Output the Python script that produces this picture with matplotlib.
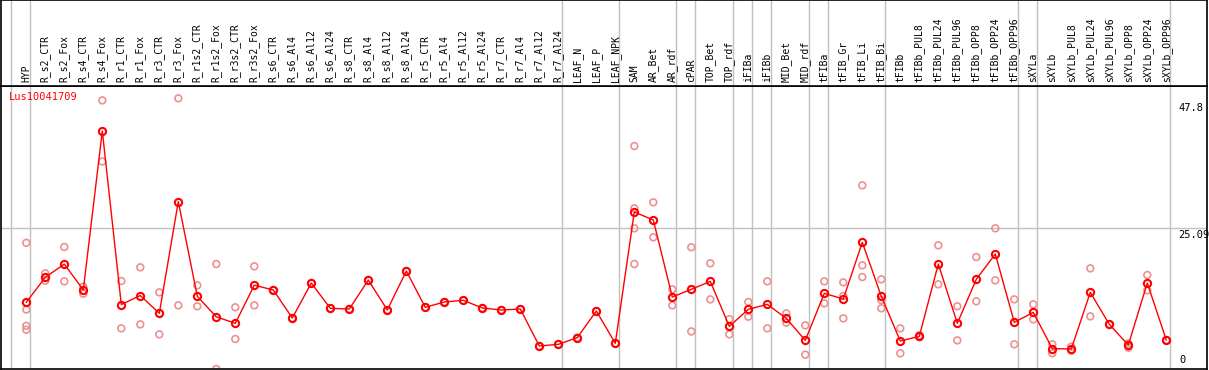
import matplotlib
matplotlib.use("Agg")
import matplotlib.pyplot as plt

W, H = 1209, 370

GENE = "Lus10041709"

LABELS = [
    "HYP", "R_s2_CTR", "R_s2_Fox", "R_s4_CTR", "R_s4_Fox", "R_r1_CTR", "R_r1_Fox",
    "R_r3_CTR", "R_r3_Fox", "R_r1s2_CTR", "R_r1s2_Fox", "R_r3s2_CTR", "R_r3s2_Fox",
    "R_s6_CTR", "R_s6_Al4", "R_s6_Al12", "R_s6_Al24", "R_s8_CTR", "R_s8_Al4",
    "R_s8_Al12", "R_s8_Al24", "R_r5_CTR", "R_r5_Al4", "R_r5_Al12", "R_r5_Al24",
    "R_r7_CTR", "R_r7_Al4", "R_r7_Al12", "R_r7_Al24", "LEAF_N", "LEAF_P", "LEAF_NPK",
    "SAM", "AR_Bet", "AR_rdf", "cPAR", "TOP_Bet", "TOP_rdf", "iFIBa", "iFIBb",
    "MID_Bet", "MID_rdf", "tFIBa", "tFIB_Gr", "tFIB_Li", "tFIB_Bi", "tFIBb",
    "tFIBb_PUL8", "tFIBb_PUL24", "tFIBb_PUL96", "tFIBb_OPP8", "tFIBb_OPP24",
    "tFIBb_OPP96", "sXYLa", "sXYLb", "sXYLb_PUL8", "sXYLb_PUL24", "sXYLb_PUL96",
    "sXYLb_OPP8", "sXYLb_OPP24", "sXYLb_OPP96",
]

MEANS = [
    11.9, 16.35, 18.7, 14.1, 42.45, 11.5, 13.1, 9.93, 29.85, 12.96, 9.3, 8.15, 14.95,
    14.09, 9.09, 15.33, 10.82, 10.7, 15.87, 10.52, 17.47, 11.0, 11.95, 12.25, 10.88,
    10.52, 10.7, 4.1, 4.4, 5.59, 10.34, 4.58,
    28.0, 26.57, 12.84, 14.2, 15.63, 7.6, 10.64, 11.53, 9.03, 5.11,
    13.49, 12.48, 22.59, 12.96, 4.99, 5.82, 18.72, 8.15, 15.99, 20.5, 8.33,
    10.1, 3.63, 3.57, 13.67, 7.96, 4.28, 15.33, 5.17,
]

REPLICATES = [
    [22.5, 10.6, 7.7, 7.0], [17.06, 15.75], [21.75, 15.63], [14.68, 13.43],
    [47.9, 37.0], [15.69, 7.25], [18.13, 7.96], [13.67, 6.18], [48.27, 11.35],
    [14.92, 11.18], [18.72, 0.0], [11.0, 5.35], [18.31, 11.35],
    [14.09], [9.09], [15.33], [10.82], [10.7], [15.87], [10.52], [17.47],
    [11.0], [11.95], [12.25], [10.88], [10.52], [10.7], [4.1], [4.4],
    [5.59], [10.34], [4.58],
    [39.76, 28.65, 25.09, 18.72], [29.72, 23.48], [14.2, 11.35], [21.7, 6.7],
    [18.84, 12.42], [8.9, 6.18], [11.95, 9.33], [15.63, 7.25], [9.93, 8.27],
    [7.78, 2.56], [15.63, 11.71], [15.45, 13.0, 9.03], [32.75, 18.49, 16.4],
    [15.99, 12.3, 10.82], [7.25, 2.8], [6.0, 5.7], [22.05, 15.1], [11.18, 5.11],
    [19.97, 12.07], [25.09, 15.81], [12.42, 4.4], [11.53, 8.86], [4.4, 2.8],
    [3.98, 3.27], [17.95, 9.39], [7.96], [4.58, 3.8], [16.76, 14.03], [5.17],
]

# group separators sit just right of these category indices
GROUP_ENDS = [-1, 0, 28, 31, 34, 35, 37, 38, 39, 41, 42, 45, 52, 53, 60]

Y_MAX = 47.8
Y_MID = 25.09

FONT = "DejaVu Sans Mono"
GRID = "#c0c0c0"
REP_COLOR = "#ee9090"

# pixel geometry of the reference
X0, DX = 26.3, 19.0
PLOT_TOP, PLOT_BOTTOM = 85.7, 369.0
PX_PER_UNIT = (PLOT_BOTTOM - 228.3) / Y_MID


def setup_axes(fig):
    xlim = ((1 - X0) / DX, (1207 - X0) / DX)
    ax = fig.add_axes([1 / W, (H - PLOT_BOTTOM) / H, 1206 / W, (PLOT_BOTTOM - PLOT_TOP) / H])
    top = fig.add_axes([1 / W, (H - PLOT_TOP) / H, 1206 / W, PLOT_TOP / H - 0.5 / H])
    for a in (ax, top):
        a.set_xlim(*xlim)
        a.set_xticks([])
        a.set_yticks([])
        for s in a.spines.values():
            s.set_color("black")
            s.set_linewidth(1.2)
        for g in GROUP_ENDS:
            a.axvline(g + 0.22, color=GRID, lw=1, zorder=0)
    ax.set_ylim(0, (PLOT_BOTTOM - PLOT_TOP) / PX_PER_UNIT)
    top.set_ylim(0, 1)
    return ax, top


def plot_all(outfile):
    fig = plt.figure(figsize=(W / 100, H / 100), dpi=100)
    ax, top = setup_axes(fig)
    x = list(range(len(LABELS)))

    for i, lab in enumerate(LABELS):
        top.text(i, 3.5 / PLOT_TOP, lab, rotation=90, ha="center", va="bottom",
                 family=FONT, fontsize=7)

    ax.axhline(Y_MID, color=GRID, lw=1, zorder=0)

    rx = [i for i, reps in enumerate(REPLICATES) for _ in reps]
    ry = [v for reps in REPLICATES for v in reps]
    ax.scatter(rx, ry, s=24, facecolors="none", edgecolors=REP_COLOR, linewidths=1.2, zorder=2)
    ax.plot(x, MEANS, color="red", lw=1, marker="o", ms=5.2, mfc="none", mec="red",
            mew=1.5, zorder=3)

    ytr = ax.get_yaxis_transform()
    for val, txt in [(Y_MAX, "47.8"), (Y_MID, "25.09")]:
        ax.annotate(txt, xy=(0.976, val), xycoords=ytr, xytext=(0, -1.5),
                    textcoords="offset points", va="top", ha="left",
                    family=FONT, fontsize=7.5)
    ax.annotate("0", xy=(0.977, 0), xycoords=ytr, xytext=(0, 3),
                textcoords="offset points", va="bottom", ha="left",
                family=FONT, fontsize=7.5)

    fig.text(8.5 / W, 1 - 96.7 / H, GENE, color="red", ha="left", va="center",
             family=FONT, fontsize=7.5)

    fig.savefig(outfile, dpi=100)


def main():
    plot_all("out.png")


if __name__ == "__main__":
    main()
